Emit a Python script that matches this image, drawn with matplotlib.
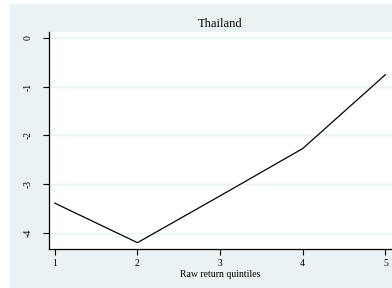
import matplotlib
matplotlib.use("Agg")
import matplotlib.pyplot as plt
from matplotlib.patches import Rectangle

quintiles = [1, 2, 3, 4, 5]
values = [-3.39, -4.2, -3.24, -2.27, -0.755]
yticks = [0, -1, -2, -3, -4]
title = "Thailand"
xlabel = "Raw return quintiles"

bg = "#eaf2f3"
plt.rcParams['font.family'] = ['Liberation Serif', 'DejaVu Serif']

W, H = 392, 288
fig = plt.figure(figsize=(W / 100, H / 100), dpi=100, facecolor="white")
fig.patches.append(Rectangle((10 / W, 0), 1 - 10 / W, 1 - 4 / H,
                             transform=fig.transFigure, facecolor=bg,
                             edgecolor="none", zorder=-10))

ax = fig.add_axes([49 / W, 1 - 249 / H, (392 - 49) / W, (249 - 32) / H])
ax.set_zorder(5)
ax.set_facecolor("white")
ax.plot(quintiles, values, color="black", lw=0.9)
ax.set_xlim(0.93, 5.08)
ax.set_ylim(-4.33, 0.12)
ax.set_xticks(quintiles)
ax.set_yticks(yticks)
ax.set_yticklabels([str(t) for t in yticks], rotation=90, va="center")
ax.tick_params(axis="both", labelsize=7, length=4, width=0.8, direction="out")
ax.tick_params(axis="y", pad=8)
ax.tick_params(axis="x", pad=3.5)
ax.grid(axis="y", color=bg, lw=1)
ax.set_axisbelow(True)
for s in ["top", "right"]:
    ax.spines[s].set_visible(False)
for s in ["left", "bottom"]:
    ax.spines[s].set_linewidth(0.9)
ax.set_xlabel(xlabel, fontsize=7, labelpad=1)
fig.text((49 + 392) / 2 / W, 1 - 24 / H, title, ha="center", va="center", fontsize=9)

fig.savefig("out.png", dpi=100, facecolor="white")
